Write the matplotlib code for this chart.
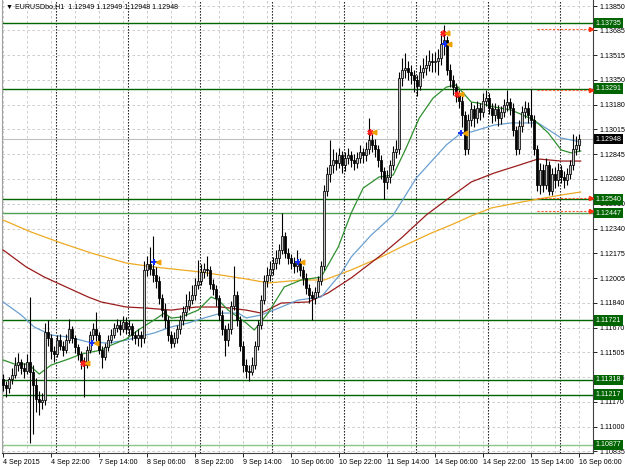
import numpy as np
import matplotlib
matplotlib.use("Agg")
import matplotlib.pyplot as plt
import matplotlib.transforms as mtransforms

plt.rcParams['font.family'] = ['Liberation Sans', 'DejaVu Sans']

# EURUSD H1 bars, 4 Sep 2015 06:00 .. 16 Sep 2015 06:00
opens = [1.1132, 1.1128, 1.1126, 1.1132, 1.1135, 1.1142, 1.1144, 1.1140, 1.1138, 1.1144,
         1.1137, 1.1128, 1.1119, 1.1117, 1.1118, 1.1164, 1.1160, 1.1151, 1.1149, 1.1159,
         1.1155, 1.1152, 1.1159, 1.1166, 1.1160, 1.1154, 1.1149, 1.1144, 1.1142, 1.1152,
         1.1162, 1.1166, 1.1162, 1.1152, 1.1147, 1.1154, 1.1159, 1.1162, 1.1167, 1.1169,
         1.1166, 1.1171, 1.1166, 1.1168, 1.1162, 1.1160, 1.1162, 1.1160, 1.1206, 1.1210,
         1.1207, 1.1203, 1.1199, 1.1187, 1.1179, 1.1172, 1.1162, 1.1157, 1.1160, 1.1166,
         1.1172, 1.1178, 1.1182, 1.1186, 1.1189, 1.1196, 1.1199, 1.1205, 1.1207, 1.1206,
         1.1197, 1.1193, 1.1187, 1.1176, 1.1166, 1.1159, 1.1166, 1.1182, 1.1189, 1.1172,
         1.1155, 1.1142, 1.1138, 1.1137, 1.1142, 1.1155, 1.1169, 1.1186, 1.1199, 1.1203,
         1.1207, 1.1211, 1.1214, 1.1220, 1.1229, 1.1218, 1.1214, 1.1211, 1.1209, 1.1211,
         1.1206, 1.1201, 1.1194, 1.1189, 1.1187, 1.1191, 1.1199, 1.1209, 1.1260, 1.1271,
         1.1277, 1.1281, 1.1279, 1.1284, 1.1277, 1.1282, 1.1284, 1.1281, 1.1279, 1.1282,
         1.1286, 1.1284, 1.1288, 1.1294, 1.1291, 1.1288, 1.1281, 1.1273, 1.1266, 1.1269,
         1.1277, 1.1286, 1.1288, 1.1336, 1.1342, 1.1343, 1.1340, 1.1338, 1.1335, 1.1331,
         1.1340, 1.1343, 1.1345, 1.1348, 1.1347, 1.1348, 1.1350, 1.1359, 1.1362, 1.1342,
         1.1335, 1.1330, 1.1325, 1.1321, 1.1311, 1.1288, 1.1308, 1.1315, 1.1309, 1.1316,
         1.1313, 1.1321, 1.1323, 1.1316, 1.1311, 1.1315, 1.1309, 1.1313, 1.1318, 1.1320,
         1.1316, 1.1301, 1.1288, 1.1304, 1.1313, 1.1316, 1.1311, 1.1308, 1.1288, 1.1264,
         1.1274, 1.1264, 1.1277, 1.1260, 1.1271, 1.1267, 1.1274, 1.1269, 1.1267, 1.1271,
         1.1277, 1.1288, 1.1291]
highs = [1.1136, 1.1131, 1.1134, 1.1140, 1.1147, 1.1150, 1.1146, 1.1143, 1.1149, 1.1188,
         1.1142, 1.1133, 1.1124, 1.1123, 1.1170, 1.1172, 1.1163, 1.1155, 1.1162, 1.1163,
         1.1158, 1.1163, 1.1173, 1.1168, 1.1162, 1.1156, 1.1151, 1.1147, 1.1155, 1.1165,
         1.1170, 1.1178, 1.1164, 1.1155, 1.1157, 1.1162, 1.1166, 1.1170, 1.1173, 1.1172,
         1.1175, 1.1174, 1.1172, 1.1170, 1.1165, 1.1166, 1.1165, 1.1212, 1.1216, 1.1222,
         1.1229, 1.1208, 1.1202, 1.1190, 1.1184, 1.1175, 1.1165, 1.1164, 1.1169, 1.1176,
         1.1182, 1.1190, 1.1192, 1.1196, 1.1201, 1.1213, 1.1210, 1.1211, 1.1216, 1.1209,
         1.1200, 1.1196, 1.1189, 1.1179, 1.1169, 1.1170, 1.1185, 1.1209, 1.1192, 1.1175,
         1.1158, 1.1146, 1.1142, 1.1147, 1.1158, 1.1172, 1.1189, 1.1203, 1.1208, 1.1212,
         1.1215, 1.1220, 1.1224, 1.1245, 1.1232, 1.1221, 1.1217, 1.1215, 1.1220, 1.1214,
         1.1209, 1.1204, 1.1197, 1.1192, 1.1195, 1.1202, 1.1212, 1.1264, 1.1276, 1.1294,
         1.1288, 1.1286, 1.1289, 1.1287, 1.1286, 1.1289, 1.1287, 1.1285, 1.1286, 1.1291,
         1.1289, 1.1293, 1.1309, 1.1299, 1.1295, 1.1291, 1.1284, 1.1276, 1.1274, 1.1281,
         1.1290, 1.1294, 1.1340, 1.1350, 1.1353, 1.1348, 1.1345, 1.1342, 1.1338, 1.1345,
         1.1350, 1.1352, 1.1355, 1.1353, 1.1354, 1.1356, 1.1366, 1.1372, 1.1365, 1.1346,
         1.1338, 1.1333, 1.1328, 1.1324, 1.1314, 1.1312, 1.1320, 1.1318, 1.1321, 1.1319,
         1.1326, 1.1328, 1.1326, 1.1319, 1.1319, 1.1318, 1.1317, 1.1322, 1.1328, 1.1323,
         1.1319, 1.1304, 1.1308, 1.1317, 1.1321, 1.1320, 1.1329, 1.1311, 1.1291, 1.1279,
         1.1278, 1.1282, 1.1280, 1.1275, 1.1276, 1.1279, 1.1277, 1.1273, 1.1275, 1.1281,
         1.1298, 1.1297, 1.1298]
lows = [1.1124, 1.1120, 1.1123, 1.1129, 1.1133, 1.1138, 1.1136, 1.1133, 1.1136, 1.1089,
        1.1095, 1.1110, 1.1108, 1.1112, 1.1115, 1.1155, 1.1146, 1.1144, 1.1147, 1.1152,
        1.1148, 1.1150, 1.1157, 1.1157, 1.1150, 1.1145, 1.1139, 1.1120, 1.1140, 1.1150,
        1.1159, 1.1158, 1.1149, 1.1140, 1.1145, 1.1151, 1.1157, 1.1160, 1.1164, 1.1162,
        1.1164, 1.1163, 1.1162, 1.1159, 1.1156, 1.1155, 1.1154, 1.1157, 1.1202, 1.1203,
        1.1198, 1.1194, 1.1183, 1.1174, 1.1167, 1.1158, 1.1153, 1.1154, 1.1157, 1.1163,
        1.1169, 1.1175, 1.1179, 1.1183, 1.1186, 1.1193, 1.1196, 1.1201, 1.1202, 1.1193,
        1.1189, 1.1182, 1.1172, 1.1162, 1.1148, 1.1155, 1.1163, 1.1179, 1.1168, 1.1151,
        1.1137, 1.1133, 1.1131, 1.1135, 1.1139, 1.1152, 1.1166, 1.1183, 1.1195, 1.1199,
        1.1203, 1.1207, 1.1210, 1.1217, 1.1214, 1.1210, 1.1207, 1.1204, 1.1205, 1.1202,
        1.1196, 1.1190, 1.1184, 1.1172, 1.1183, 1.1188, 1.1196, 1.1206, 1.1256, 1.1266,
        1.1272, 1.1274, 1.1275, 1.1272, 1.1273, 1.1278, 1.1276, 1.1274, 1.1275, 1.1279,
        1.1279, 1.1280, 1.1285, 1.1286, 1.1283, 1.1276, 1.1268, 1.1254, 1.1261, 1.1265,
        1.1274, 1.1282, 1.1285, 1.1331, 1.1336, 1.1335, 1.1332, 1.1327, 1.1324, 1.1328,
        1.1336, 1.1338, 1.1341, 1.1340, 1.1340, 1.1338, 1.1345, 1.1352, 1.1338, 1.1330,
        1.1325, 1.1320, 1.1316, 1.1303, 1.1284, 1.1285, 1.1304, 1.1303, 1.1306, 1.1308,
        1.1310, 1.1317, 1.1312, 1.1306, 1.1307, 1.1304, 1.1305, 1.1310, 1.1314, 1.1311,
        1.1297, 1.1284, 1.1285, 1.1300, 1.1309, 1.1306, 1.1303, 1.1284, 1.1260, 1.1258,
        1.1259, 1.1261, 1.1257, 1.1257, 1.1262, 1.1263, 1.1265, 1.1262, 1.1264, 1.1268,
        1.1274, 1.1284, 1.1287]
closes = [1.1128, 1.1126, 1.1132, 1.1135, 1.1142, 1.1144, 1.1140, 1.1138, 1.1144, 1.1137,
          1.1128, 1.1119, 1.1117, 1.1118, 1.1164, 1.1160, 1.1151, 1.1149, 1.1159, 1.1155,
          1.1152, 1.1159, 1.1166, 1.1160, 1.1154, 1.1149, 1.1144, 1.1142, 1.1152, 1.1162,
          1.1166, 1.1162, 1.1152, 1.1147, 1.1154, 1.1159, 1.1162, 1.1167, 1.1169, 1.1166,
          1.1171, 1.1166, 1.1168, 1.1162, 1.1160, 1.1162, 1.1160, 1.1206, 1.1210, 1.1207,
          1.1203, 1.1199, 1.1187, 1.1179, 1.1172, 1.1162, 1.1157, 1.1160, 1.1166, 1.1172,
          1.1178, 1.1182, 1.1186, 1.1189, 1.1196, 1.1199, 1.1205, 1.1207, 1.1206, 1.1197,
          1.1193, 1.1187, 1.1176, 1.1166, 1.1159, 1.1166, 1.1182, 1.1189, 1.1172, 1.1155,
          1.1142, 1.1138, 1.1137, 1.1142, 1.1155, 1.1169, 1.1186, 1.1199, 1.1203, 1.1207,
          1.1211, 1.1214, 1.1220, 1.1229, 1.1218, 1.1214, 1.1211, 1.1209, 1.1211, 1.1206,
          1.1201, 1.1194, 1.1189, 1.1187, 1.1191, 1.1199, 1.1209, 1.1260, 1.1271, 1.1277,
          1.1281, 1.1279, 1.1284, 1.1277, 1.1282, 1.1284, 1.1281, 1.1279, 1.1282, 1.1286,
          1.1284, 1.1288, 1.1294, 1.1291, 1.1288, 1.1281, 1.1273, 1.1266, 1.1269, 1.1277,
          1.1286, 1.1288, 1.1336, 1.1342, 1.1343, 1.1340, 1.1338, 1.1335, 1.1331, 1.1340,
          1.1343, 1.1345, 1.1348, 1.1347, 1.1348, 1.1350, 1.1359, 1.1362, 1.1342, 1.1335,
          1.1330, 1.1325, 1.1321, 1.1311, 1.1288, 1.1308, 1.1315, 1.1309, 1.1316, 1.1313,
          1.1321, 1.1323, 1.1316, 1.1311, 1.1315, 1.1309, 1.1313, 1.1318, 1.1320, 1.1316,
          1.1301, 1.1288, 1.1304, 1.1313, 1.1316, 1.1311, 1.1308, 1.1288, 1.1264, 1.1274,
          1.1264, 1.1277, 1.1260, 1.1271, 1.1267, 1.1274, 1.1269, 1.1267, 1.1271, 1.1277,
          1.1288, 1.1291, 1.12948]

# moving averages, sampled along the curves (bar index, price)
ma_green_x = [0, 3.7, 8.3, 12, 16, 21.7, 26, 29.3, 32.7, 36, 41, 45, 50.3, 53.7, 56, 59.3, 65,
              69.3, 71.7, 75, 81, 83.7, 88.3, 93.7, 99.3, 106, 111.7, 116, 120, 125.3, 130,
              134.3, 138.7, 143.3, 147.7, 151, 156, 158.3, 163.7, 169.3, 177, 181.7, 186,
              189.3, 192.5]
ma_green_y = [1.11452, 1.11425, 1.11425, 1.11357, 1.11418, 1.11458, 1.11492, 1.11506, 1.11519,
              1.11553, 1.11594, 1.11655, 1.11723, 1.11770, 1.11736, 1.11743, 1.11790, 1.11879,
              1.11858, 1.11790, 1.11703, 1.11655, 1.11770, 1.11947, 1.11994, 1.12014, 1.12218,
              1.12448, 1.12617, 1.12692, 1.12705, 1.12888, 1.13092, 1.13227, 1.13301, 1.13315,
              1.13200, 1.13193, 1.13166, 1.13146, 1.13078, 1.12990, 1.12875, 1.12855, 1.12868]
ma_blue_x = [0, 6, 10.3, 16, 21.7, 28.3, 35, 41, 45, 50.3, 56, 61.7, 67, 72.7, 78.3, 81, 86,
             92.7, 98.3, 106, 112.7, 116, 122.7, 130, 137.7, 147.7, 152.7, 156, 163.7, 169.3,
             178.3, 186, 192.5]
ma_blue_y = [1.11845, 1.11757, 1.11676, 1.11621, 1.11608, 1.11574, 1.11567, 1.11587, 1.11608,
             1.11635, 1.11676, 1.11703, 1.11737, 1.11770, 1.11770, 1.11737, 1.11757, 1.11811,
             1.11858, 1.11879, 1.12041, 1.12150, 1.12299, 1.12434, 1.12685, 1.12909, 1.12990,
             1.12997, 1.13044, 1.13058, 1.13058, 1.12956, 1.12929]
ma_red_x = [0, 7.7, 13.7, 21.7, 28.3, 32.7, 41, 47.7, 56, 64.3, 72.7, 81, 86, 92.7, 101.7,
            108.3, 116, 126, 132.7, 141, 147.7, 156, 163.7, 171, 178.3, 186, 192.5]
ma_red_y = [1.12197, 1.12082, 1.12014, 1.11940, 1.11879, 1.11845, 1.11811, 1.11804, 1.11790,
            1.11811, 1.11811, 1.11790, 1.11770, 1.11838, 1.11845, 1.11906, 1.12008, 1.12163,
            1.12278, 1.12434, 1.12536, 1.12658, 1.12719, 1.12766, 1.12814, 1.12800, 1.12800]
ma_orange_x = [0, 9.3, 19.3, 29.3, 41, 50.3, 66, 81, 88.3, 99.3, 107, 116, 126, 132.7, 142.7,
               149.3, 156, 162.7, 172.7, 186, 192.5]
ma_orange_y = [1.12400, 1.12319, 1.12245, 1.12177, 1.12109, 1.12082, 1.12048, 1.12001, 1.11974,
               1.11994, 1.11994, 1.12062, 1.12150, 1.12218, 1.12312, 1.12367, 1.12428, 1.12482,
               1.12522, 1.12570, 1.12590]

# signal marks (bar index, price, kind)
sig_x = [26.7, 29.7, 50.3, 98.3, 122.3, 146.7, 147.3, 151.3, 152.7]
sig_y = [1.11432, 1.11567, 1.12116, 1.12116, 1.12997, 1.13667, 1.13593, 1.13254, 1.12990]
sig_kind = ['sell', 'buy', 'buy', 'buy', 'sell', 'sell', 'buy', 'sell', 'buy']

# horizontal levels
levels = [1.13735, 1.13291, 1.12540, 1.12447, 1.11721, 1.11318, 1.11217, 1.10877]
level_colors = ['#006400', '#006400', '#006400', '#4f9f4f', '#006400', '#006400', '#006400', '#8cc68c']
alert_levels = [1.13694, 1.13281, 1.12550, 1.12462]
alert_start = 178
bid = 1.12948

yticks = [1.13850, 1.13685, 1.13515, 1.13350, 1.13180, 1.13015, 1.12845, 1.12680, 1.12510,
          1.12340, 1.12175, 1.12005, 1.11840, 1.11670, 1.11505, 1.11335, 1.11170, 1.11000, 1.10835]
xtick_pos = [0, 16, 32, 48, 64, 80, 96, 112, 128, 144, 160, 176, 192]
xtick_labels = ['4 Sep 2015', '4 Sep 22:00', '7 Sep 14:00', '8 Sep 06:00', '8 Sep 22:00',
                '9 Sep 14:00', '10 Sep 06:00', '10 Sep 22:00', '11 Sep 14:00', '14 Sep 06:00',
                '14 Sep 22:00', '15 Sep 14:00', '16 Sep 06:00']
day_starts = [18, 42, 66, 90, 114, 138, 162, 186]

FS = 5.1

fig = plt.figure(figsize=(6.25, 4.68), dpi=100)
fig.patch.set_facecolor('white')
ax = fig.add_axes([2 / 625, 15 / 468, 591 / 625, 453 / 468])
ax.set_xlim(-0.4, 196.6)
ax.set_ylim(1.10822, 1.13891)

# grid
ax.set_yticks(yticks)
ax.set_yticklabels(['%.5f' % v for v in yticks])
ax.set_xticks(xtick_pos)
ax.set_xticklabels(xtick_labels)
ax.set_xticks(np.arange(0, 197, 8), minor=True)
ax.grid(True, which='both', axis='x', color='#c4c4c4', linestyle=(0, (3, 3)), linewidth=0.6)
ax.grid(True, which='major', axis='y', color='#c4c4c4', linestyle=(0, (3, 3)), linewidth=0.6)
ax.set_axisbelow(True)
ax.yaxis.tick_right()
ax.tick_params(axis='y', length=3, width=0.6, labelsize=FS, pad=1.5, colors='black')
ax.tick_params(axis='x', which='major', length=3, width=0.6, labelsize=FS, pad=1)
ax.tick_params(axis='x', which='minor', length=0)
for lab in ax.get_xticklabels():
    lab.set_horizontalalignment('left')
for lab in ax.get_yticklabels():
    lab.set_horizontalalignment('left')
ax.spines['top'].set_visible(False)
ax.spines['left'].set_color('#a0a0a0')
ax.spines['right'].set_color('#404040')
ax.spines['bottom'].set_color('#404040')

# day separators
for d in day_starts:
    ax.axvline(d - 0.3, color='black', linestyle=(0, (1.2, 1.5)), linewidth=0.8, zorder=1)

# levels
for lv, col in zip(levels, level_colors):
    ax.axhline(lv, color=col, linewidth=1.0, zorder=2)
ax.axhline(bid, color='#c0c0c0', linewidth=0.8, zorder=1.5)

# moving averages
ax.plot(ma_orange_x, ma_orange_y, color='#eeaa22', linewidth=0.9, zorder=3)
ax.plot(ma_red_x, ma_red_y, color='#9a1c1c', linewidth=0.9, zorder=3)
ax.plot(ma_blue_x, ma_blue_y, color='#6a9fd0', linewidth=0.9, zorder=3)
ax.plot(ma_green_x, ma_green_y, color='#2f8f2f', linewidth=0.9, zorder=3)

# candles
idx = np.arange(len(closes))
o = np.array(opens)
c = np.array(closes)
ax.vlines(idx, lows, highs, color='black', linewidth=0.8, zorder=4)
up = c >= o
ax.bar(idx[up], c[up] - o[up], bottom=o[up], width=0.75, color='#c4c4c4',
       edgecolor='black', linewidth=0.55, zorder=5)
ax.bar(idx[~up], c[~up] - o[~up], bottom=o[~up], width=0.75, color='black',
       edgecolor='black', linewidth=0.55, zorder=5)

# signals
for sx, sy, kind in zip(sig_x, sig_y, sig_kind):
    if kind == 'sell':
        ax.plot(sx, sy, marker=(6, 2, 0), color='#ff2020', markersize=4.5, mew=1.1, zorder=7)
    else:
        ax.plot(sx, sy, marker='+', color='#1030ff', markersize=4.5, mew=1.4, zorder=7)
    ax.plot(sx + 1.3, sy, marker='<', color='#f0a000', markersize=3.3, zorder=7)

# alert lines on the right
for al in alert_levels:
    ax.plot([alert_start, 195.8], [al, al], color='#ff5a30', linestyle=(0, (2, 1.5)),
            linewidth=0.8, zorder=6)
    ax.plot(195.8, al, marker='>', color='#ff3010', markersize=3, zorder=6)

# price labels on the axis
trans = mtransforms.blended_transform_factory(ax.transAxes, ax.transData)
for lv in levels:
    ax.text(1.004, lv, '%.5f' % lv, transform=trans, fontsize=FS, color='white', va='center',
            ha='left', clip_on=False, zorder=10,
            bbox=dict(boxstyle='square,pad=0.25', fc='#006400', ec='none'))
ax.text(1.004, bid, '%.5f' % bid, transform=trans, fontsize=FS, color='white', va='center',
        ha='left', clip_on=False, zorder=10,
        bbox=dict(boxstyle='square,pad=0.25', fc='black', ec='none'))

# title
ax.text(0.006, 0.993, '\u25bc EURUSDbo,H1  1.12949 1.12949 1.12948 1.12948',
        transform=ax.transAxes, fontsize=FS, va='top', ha='left', color='black', zorder=10)

fig.savefig('out.png', dpi=100, facecolor='white')
